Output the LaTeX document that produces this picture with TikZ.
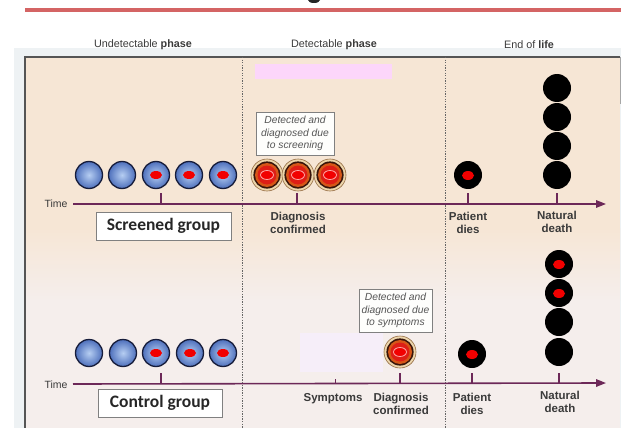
\documentclass[tikz,border=0pt]{standalone}
\usepackage{fontspec}
\setmainfont{Liberation Sans}
\newfontfamily\grpfont{Carlito}
\usetikzlibrary{arrows.meta}

\definecolor{hdr}{RGB}{58,58,58}
\definecolor{rulered}{RGB}{212,100,100}
\definecolor{pale}{RGB}{238,242,244}
\definecolor{peach}{RGB}{246,230,213}
\definecolor{blush}{RGB}{245,238,236}
\definecolor{framegray}{RGB}{85,85,85}
\definecolor{pinkbar}{RGB}{252,214,250}
\definecolor{lavender}{RGB}{246,238,249}
\definecolor{axis}{RGB}{108,40,88}
\definecolor{navy}{RGB}{22,28,58}
\definecolor{bluein}{RGB}{182,206,242}
\definecolor{blueout}{RGB}{78,112,188}
\definecolor{core}{RGB}{242,0,0}
\definecolor{tan}{RGB}{236,214,172}
\definecolor{tanline}{RGB}{150,110,70}
\definecolor{darkbrown}{RGB}{55,20,10}
\definecolor{burnt}{RGB}{214,86,24}
\definecolor{hot}{RGB}{222,30,22}
\definecolor{glow}{RGB}{255,165,165}
\definecolor{note}{RGB}{85,85,85}

\tikzset{
  cell/.style={circle,inner sep=0pt,minimum size=27pt,draw=navy,line width=1.3pt,
    inner color=bluein,outer color=blueout},
  cellcore/.style={cell,path picture={
    \fill[core] (path picture bounding box.center) ellipse [x radius=6pt,y radius=4pt];}},
  detected/.style={circle,inner sep=0pt,minimum size=32pt,draw=tanline,line width=0.6pt,
    fill=tan,path picture={
    \fill[darkbrown] (path picture bounding box.center) circle [radius=13.6pt];
    \fill[burnt] (path picture bounding box.center) circle [radius=12pt];
    \fill[hot] (path picture bounding box.center) circle [radius=9.5pt];
    \fill[core,draw=glow,line width=0.8pt] (path picture bounding box.center)
      ellipse [x radius=6.5pt,y radius=4.5pt];}},
  death/.style={circle,inner sep=0pt,minimum size=28pt,fill=black},
  deathcore/.style={death,path picture={
    \fill[core] ([yshift=-0.5pt]path picture bounding box.center) ellipse [x radius=6pt,y radius=4.5pt];}},
  hdrtxt/.style={font=\fontsize{10.8}{13}\selectfont,text=hdr,inner sep=0pt},
  lbl/.style={font=\bfseries\fontsize{11.5}{13.5}\selectfont,text=hdr,align=center,
    inner sep=0pt,anchor=north},
  timelbl/.style={font=\fontsize{10.5}{12}\selectfont,text=hdr,inner sep=0pt},
  groupbox/.style={draw=gray,line width=0.8pt,fill=white,minimum height=28pt,
    inner sep=0pt,font=\grpfont\bfseries\fontsize{17.5}{19}\selectfont,text=black!85},
  notebox/.style={draw=gray,line width=0.8pt,fill=white!94!peach,minimum width=78pt,
    minimum height=43pt,inner sep=1pt,align=center,
    font=\itshape\fontsize{10.3}{12.5}\selectfont,text=note},
  axisline/.style={draw=axis,line width=1.6pt,-{Triangle[length=10pt,width=7.5pt]}},
  tickmark/.style={draw=axis,line width=1.4pt},
  phaseline/.style={draw=black!60,line width=0.9pt,dash pattern=on 1.3pt off 1.3pt}
}

\begin{document}
\begin{tikzpicture}[x=1pt,y=-1pt]
\useasboundingbox (0,0) rectangle (621,428);
\clip (0,0) rectangle (621,428);

% page decoration: cut-off title glyph and red rule
\fill[black!85] (314,0) ellipse [x radius=6pt,y radius=3pt];
\draw[rulered,line width=3.5pt] (25,10) -- (621,10);

% panel backgrounds
\fill[pale] (14,48) rectangle (621,428);
\fill[peach] (25,57) rectangle (620,228);
\shade[top color=peach,bottom color=blush] (25,228) rectangle (620,300);
\fill[blush] (25,300) rectangle (620,428);
\fill[pinkbar] (255,64) rectangle (392,79);
\fill[lavender] (300,333) rectangle (383,372);
\draw[framegray,line width=1.6pt] (25,428) -- (25,57) -- (620,57);
\draw[black!35,line width=1pt] (620,57) -- (620,104);

% phase headers and separators
\node[hdrtxt] (hUnd) at (143,45) {Undetectable \textbf{phase}};
\node[hdrtxt] (hDet) at (334,45) {Detectable \textbf{phase}};
\node[hdrtxt] (hEnd) at (529,45) {End of \textbf{life}};
\draw[phaseline] (242,57) -- (242,428);
\draw[phaseline] (445,57) -- (445,428);

% ---------------- screened group ----------------
\node[timelbl] (time1) at (56,204) {Time};
\coordinate (t1s) at (73,204);
\coordinate (t1e) at (606,204);
\draw[axisline] (t1s) -- (t1e);
\foreach \x in {161,297,468,557} \draw[tickmark] (\x,193) -- (\x,204);

\node[cell] (s1) at (89,175) {};
\node[cell] (s2) at (122,175) {};
\node[cellcore] (s3) at (156,175) {};
\node[cellcore] (s4) at (189,175) {};
\node[cellcore] (s5) at (223,175) {};
\node[detected] (sd1) at (267,175) {};
\node[detected] (sd2) at (298,175) {};
\node[detected] (sd3) at (330,175) {};
\node[deathcore] (sp) at (468,175) {};
\node[death] (sn1) at (557,175) {};
\node[death] (sn2) at (557,146) {};
\node[death] (sn3) at (557,117) {};
\node[death] (sn4) at (557,88) {};

\node[notebox] (sNote) at (295,133.5) {Detected and\\diagnosed due\\to screening};
\node[groupbox,minimum width=135pt] (sGroup) at (163.5,226) {Screened group};
\node[lbl] (sDiag) at (298,211.5) {Diagnosis\\confirmed};
\node[lbl] (sDies) at (468,211.5) {Patient\\dies};
\node[lbl] (sNat) at (557,210.5) {Natural\\death};

% ---------------- control group ----------------
\node[timelbl] (time2) at (56,385) {Time};
\coordinate (t2s) at (73,384);
\coordinate (t2e) at (606,383);
\draw[axisline] (t2s) -- (t2e);
\foreach \x in {161,400,472,559} \draw[tickmark] (\x,373) -- (\x,383.5);
\draw[tickmark,line width=1pt] (335,379) -- (335,383.5);

\node[cell] (c1) at (89,353) {};
\node[cell] (c2) at (123,353) {};
\node[cellcore] (c3) at (156,353) {};
\node[cellcore] (c4) at (190,353) {};
\node[cellcore] (c5) at (223,353) {};
\node[detected] (cd) at (400,352) {};
\node[deathcore] (cp) at (472,354) {};
\node[death] (cn1) at (559,352) {};
\node[death] (cn2) at (559,322) {};
\node[deathcore] (cn3) at (559,293) {};
\node[deathcore] (cn4) at (559,264) {};

\node[notebox,minimum width=73pt] (cNote) at (395.5,310.5) {Detected and\\diagnosed due\\to symptoms};
\node[groupbox,minimum width=124pt] (cGroup) at (160,403) {Control group};
\node[lbl] (cSym) at (333,393.5) {Symptoms};
\node[lbl] (cDiag) at (401,392.5) {Diagnosis\\confirmed};
\node[lbl] (cDies) at (472,392.5) {Patient\\dies};
\node[lbl] (cNat) at (560,390.5) {Natural\\death};
\end{tikzpicture}
\end{document}
